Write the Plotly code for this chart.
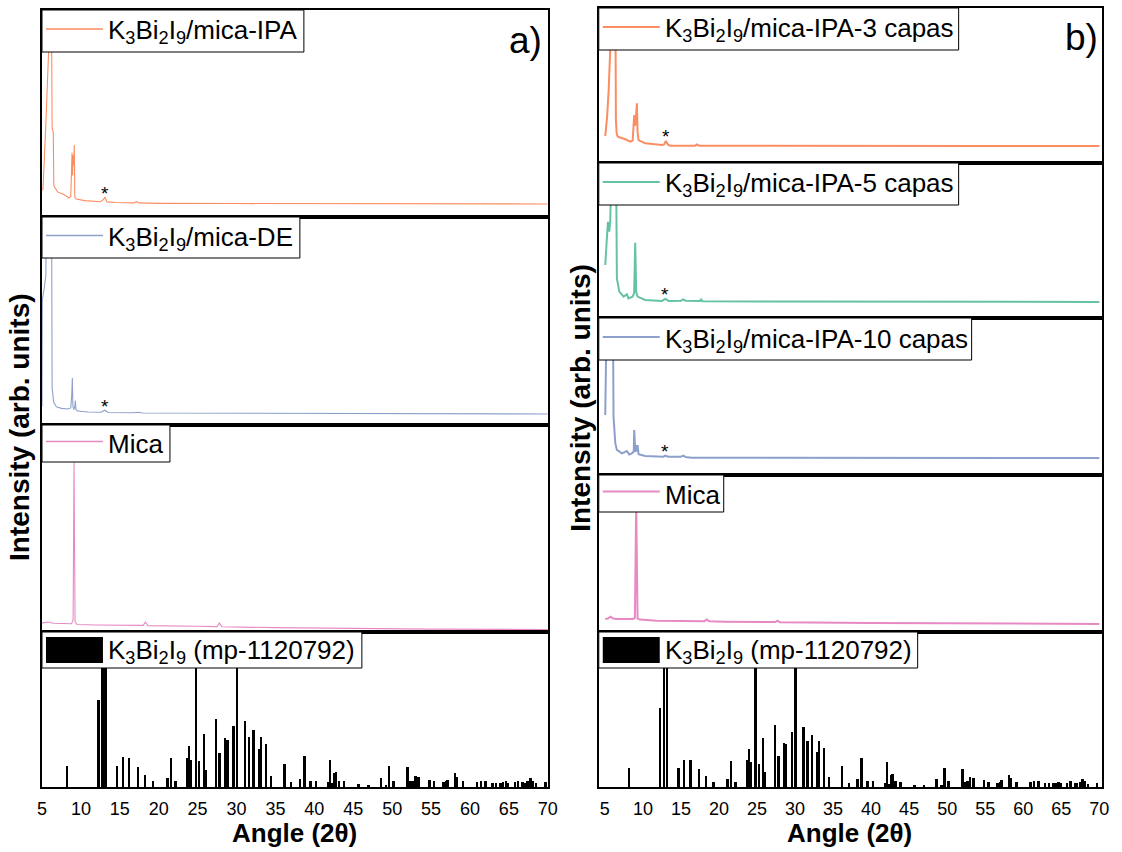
import plotly.graph_objects as go

W, H = 1122, 852
FONT = "Arial, 'Liberation Sans', sans-serif"

# ---------------- data ----------------
# Calculated reference pattern K3Bi2I9 (mp-1120792): peak positions (2theta) and relative intensity
ref_pos = [8.21, 12.29, 12.8, 13.2, 14.68, 15.41, 16.24, 17.34, 18.26, 19.31, 21.15, 21.6, 22.16,
           23.7, 23.95, 24.17, 24.82, 25.23, 25.83, 26.05, 27.38, 27.84, 28.58, 28.85, 29.63, 30.09,
           31.1, 31.65, 32.2, 32.93, 33.16, 33.8, 34.45, 36.19, 37.06, 38.2, 38.76, 39.54, 40.23,
           41.83, 42.06, 42.3, 42.6, 42.8, 43.2, 43.85, 45.7, 46.97, 48.62, 49.27, 49.63, 50.18,
           52.0, 52.4, 52.66, 53.03, 53.44, 54.82, 55.41, 56.6, 56.93, 57.16, 58.12, 58.39, 59.13,
           60.96, 61.42, 62.0, 62.9, 63.4, 63.97, 64.3, 64.63, 64.9, 65.78, 66.19, 66.79, 67.06,
           67.43, 67.8, 68.16, 68.53, 69.72]
ref_int = [13.4, 56, 120, 120, 13.4, 19.4, 19, 12.7, 7.5, 3.7, 6, 18.5, 3.7,
           19, 26.7, 17.7, 120, 16.6, 34.5, 10.8, 43.8, 22.2, 31.3, 30.2, 39.2, 120,
           42.7, 32.3, 36.6, 24.6, 32.3, 27.6, 6.9, 15.1, 3, 5.4, 20.3, 4.1, 4.1,
           3, 17.5, 2.4, 8.8, 9.5, 4.1, 3.7, 1.7, 1.3, 5.8, 1.3, 13.6, 4.1,
           13.1, 3.7, 4.1, 6.9, 6.5, 4.7, 3.7, 3, 3.7, 4.7, 8.8, 6.7, 3.7,
           3.2, 4.1, 4.1, 2.6, 2.6, 2.6, 3, 3.7, 2.6, 3, 4.1, 3, 2.6,
           3.7, 5.6, 4.1, 2.4, 3]

# Panel a)
ipa_x = [5.0, 5.13, 5.5, 5.85, 6.0, 6.15, 6.3, 6.45, 6.52, 6.8, 7.03, 7.7, 8.47, 8.7, 8.8, 8.86,
         8.93, 9.0, 9.08, 9.15, 9.22, 9.4, 10.5, 12.5, 12.9, 13.1, 13.35, 14.5, 16.8, 17.15, 17.5,
         20, 30, 40, 50, 60, 70]
ipa_y = [13, 13.5, 45, 80, 150, 150, 43, 41, 15, 13, 12, 11.1, 9.2, 10, 28, 31,
         20, 30, 25, 34.8, 9.5, 8.7, 7.9, 7.4, 8.5, 9.6, 7.3, 7.0, 6.8, 7.4, 6.8,
         6.6, 6.5, 6.4, 6.4, 6.3, 6.3]

de_x = [5.0, 5.04, 5.3, 5.5, 5.6, 6.2, 6.3, 6.5, 6.85, 7.5, 8.35, 8.7, 8.83, 8.9, 8.97, 9.1,
        9.22, 9.29, 9.36, 9.6, 10.9, 12.6, 13.07, 13.5, 16.8, 17.35, 17.9, 25, 40, 55, 70]
de_y = [9, 60, 66, 72, 150, 150, 18, 11, 8.7, 8.0, 7.7, 8.2, 15, 22.6, 9, 7.4,
        9, 11.7, 7.4, 6.7, 6.25, 6.1, 7.1, 6.0, 5.9, 6.1, 5.8, 5.7, 5.6, 5.4, 5.3]

mica_a_x = [5.0, 5.7, 6.5, 8.8, 9.0, 9.12, 9.25, 9.5, 12, 18.0, 18.3, 18.6, 25, 27.5, 27.8,
            28.1, 35, 45, 55, 70]
mica_a_y = [4.3, 4.8, 4.2, 4.0, 6, 82, 5, 3.6, 3.4, 3.2, 4.8, 3.1, 2.8, 2.6, 4.3,
            2.5, 2.1, 1.7, 1.4, 1.2]

# Panel b)
c3_x = [5.05, 5.3, 5.5, 5.84, 6.0, 6.35, 6.45, 6.55, 6.7, 7.02, 7.68, 8.34, 8.65, 8.86, 8.98,
        9.1, 9.21, 9.3, 9.43, 10.3, 12.5, 12.8, 13.02, 13.3, 13.6, 16.9, 17.1, 17.4, 25, 40, 55, 70]
c3_y = [17.4, 30, 47, 90, 150, 150, 27.7, 19, 17, 16.6, 15.3, 13.8, 14.5, 31, 24,
        30, 38.5, 20, 14.8, 12.7, 11.6, 12, 14.2, 11.8, 11.2, 11.2, 12, 11.2, 11.1, 11, 11, 11]

c5_x = [5.05, 5.3, 5.4, 5.58, 5.71, 5.84, 6.0, 6.4, 6.5, 6.58, 6.9, 7.46, 7.9, 8.1, 8.64, 8.85,
        8.99, 9.12, 9.3, 10.3, 12.5, 12.95, 13.4, 15.0, 15.3, 15.6, 17.5, 17.65, 17.8, 25, 40, 55, 70]
c5_y = [34.2, 50, 62, 55.7, 63, 90, 150, 150, 40, 25.6, 17, 13.8, 15.3, 12.7, 13.8, 16,
        48.6, 17, 13.8, 11.6, 11, 12.3, 11, 11.2, 12, 11.2, 10.9, 12.3, 10.8, 10.7, 10.5, 10.4, 10.3]

c10_x = [5.05, 5.2, 5.27, 6.0, 6.14, 6.37, 6.58, 7.24, 7.9, 8.2, 8.55, 8.8, 8.86, 8.95, 9.0,
         9.1, 9.16, 9.23, 9.3, 9.43, 10.3, 12.7, 12.95, 13.3, 15.0, 15.3, 15.6, 16.4, 25, 40, 55, 70]
c10_y = [38.2, 90, 150, 150, 37, 20.3, 16, 13.8, 15.3, 13, 13.8, 15, 28.7, 15, 14.8,
         16, 19, 15, 19, 13.3, 12.1, 11.7, 12.3, 11.7, 11.6, 12.3, 11.5, 11, 10.9, 10.9, 10.8, 10.8]

mica_b_x = [5.05, 5.4, 5.75, 6.1, 6.5, 8.69, 8.95, 9.12, 9.3, 9.6, 11.8, 18.1, 18.4, 18.7, 20.7,
            27.4, 27.7, 28.0, 40, 55, 70]
mica_b_y = [8.3, 8.6, 9.8, 8.6, 8.3, 8.3, 9, 82, 8.5, 7.9, 7.2, 6.9, 8.0, 6.9, 6.6,
            6.3, 7.2, 6.2, 5.8, 5.4, 5.1]

tick_vals = [5, 10, 15, 20, 25, 30, 35, 40, 45, 50, 55, 60, 65, 70]

SUB = "K<sub>3</sub>Bi<sub>2</sub>I<sub>9</sub>"
labels_a = [SUB + "/mica-IPA", SUB + "/mica-DE", "Mica", SUB + " (mp-1120792)"]
labels_b = [SUB + "/mica-IPA-3 capas", SUB + "/mica-IPA-5 capas", SUB + "/mica-IPA-10 capas",
            "Mica", SUB + " (mp-1120792)"]

ORANGE, GREEN, BLUE, PINK = "#FC8D62", "#66C2A5", "#8DA0CB", "#E78AC3"

# ---------------- layout geometry (pixels) ----------------
left_x = (40, 546)
right_x = (597, 1100)
left_rows = [(10, 217), (217, 425), (425, 632), (632, 787)]
right_rows = [(8, 163), (163, 318), (318, 475), (475, 632), (632, 787)]

# legend boxes: (x0, y0, x1, y1) in px
left_leg = [(40, 10, 302, 52), (40, 217, 298, 258), (40, 425, 168, 462), (40, 632, 360, 668)]
right_leg = [(597, 8, 957, 50), (597, 163, 957, 205), (597, 318, 970, 360), (597, 475, 722, 512),
             (597, 632, 916, 668)]


def fx(px):
    return ((px - 3) / 0.987) / W


def fy(py):
    return 1 - py / H


fig = go.Figure()
layout = dict(
    width=W, height=H, margin=dict(l=0, r=0, t=0, b=0),
    paper_bgcolor="white", plot_bgcolor="white", showlegend=False,
    font=dict(family=FONT, color="black"),
)

shapes = []
annotations = []

panels = [
    dict(xdom=left_x, rows=left_rows, xr=[5, 70], yr_bar=[0, 100], lw=1.1,
         series=[(ipa_x, ipa_y, ORANGE), (de_x, de_y, BLUE), (mica_a_x, mica_a_y, PINK)],
         legs=left_leg, labels=labels_a,
         stars=[(13.1, 9.6), (13.07, 7.1), None]),
    dict(xdom=right_x, rows=right_rows, xr=[4.2, 70.3], yr_bar=[0, 110], lw=2,
         series=[(c3_x, c3_y, ORANGE), (c5_x, c5_y, GREEN), (c10_x, c10_y, BLUE),
                 (mica_b_x, mica_b_y, PINK)],
         legs=right_leg, labels=labels_b,
         stars=[(13.02, 14.2), (12.95, 12.3), (12.95, 12.3), None]),
]

idx = 0
for p in panels:
    nrows = len(p["rows"])
    for r in range(nrows):
        idx += 1
        xa = "xaxis" if idx == 1 else f"xaxis{idx}"
        ya = "yaxis" if idx == 1 else f"yaxis{idx}"
        xref = "x" if idx == 1 else f"x{idx}"
        yref = "y" if idx == 1 else f"y{idx}"
        top, bot = p["rows"][r]
        is_bottom = (r == nrows - 1)
        layout[xa] = dict(
            domain=[fx(p["xdom"][0]), fx(p["xdom"][1])], range=p["xr"], anchor=yref,
            showline=True, mirror=True, linecolor="black", linewidth=1.5,
            showgrid=False, zeroline=False, ticks="",
            tickvals=tick_vals, showticklabels=is_bottom, ticklabelstandoff=5,
            tickfont=dict(size=18, family=FONT, color="black"),
        )
        yr = p["yr_bar"] if is_bottom else [0, 100]
        layout[ya] = dict(
            domain=[fy(bot), fy(top)], range=yr, anchor=xref,
            showline=True, mirror=True, linecolor="black", linewidth=1.5,
            showgrid=False, zeroline=False, ticks="", showticklabels=False,
        )
        if is_bottom:
            fig.add_trace(go.Bar(x=ref_pos, y=ref_int, width=0.25,
                                 marker=dict(color="black", line=dict(width=0)),
                                 xaxis=xref, yaxis=yref))
        else:
            sx, sy, col = p["series"][r]
            fig.add_trace(go.Scatter(x=sx, y=sy, mode="lines", line=dict(color=col, width=p["lw"]),
                                     xaxis=xref, yaxis=yref))
            st = p["stars"][r]
            if st is not None:
                annotations.append(dict(x=st[0], y=st[1], xref=xref, yref=yref, text="*",
                                        showarrow=False, yanchor="middle", yshift=4,
                                        font=dict(size=19, family=FONT, color="black")))
        # legend box
        x0, y0, x1, y1 = p["legs"][r]
        shapes.append(dict(type="rect", xref="paper", yref="paper", x0=fx(x0), x1=fx(x1),
                           y0=fy(y1), y1=fy(y0), fillcolor="white",
                           line=dict(color="black", width=1), layer="above"))
        ym = (y0 + y1) / 2
        if is_bottom:
            shapes.append(dict(type="rect", xref="paper", yref="paper", x0=fx(x0 + 4), x1=fx(x0 + 61),
                               y0=fy(y1 - 5), y1=fy(y0 + 5), fillcolor="black",
                               line=dict(color="black", width=0), layer="above"))
        else:
            col = p["series"][r][2]
            shapes.append(dict(type="line", xref="paper", yref="paper", x0=fx(x0 + 4), x1=fx(x0 + 61),
                               y0=fy(ym - 2), y1=fy(ym - 2),
                               line=dict(color=col, width=1.5 if p["lw"] < 1.5 else 2), layer="above"))
        annotations.append(dict(x=fx(x0 + 64), y=fy(ym + 1), xref="paper", yref="paper",
                                text=p["labels"][r], showarrow=False, xanchor="left", yanchor="middle",
                                font=dict(size=26, family=FONT, color="black")))

# panel letters
annotations.append(dict(x=fx(542), y=fy(40), xref="paper", yref="paper", text="a)", showarrow=False,
                        xanchor="right", yanchor="middle", font=dict(size=37, family=FONT, color="black")))
annotations.append(dict(x=fx(1098), y=fy(37), xref="paper", yref="paper", text="b)", showarrow=False,
                        xanchor="right", yanchor="middle", font=dict(size=37, family=FONT, color="black")))

# axis titles
for cx in (293, 848):
    annotations.append(dict(x=fx(cx), y=fy(833), xref="paper", yref="paper", text="Angle (2θ)",
                            showarrow=False, xanchor="center", yanchor="middle",
                            font=dict(size=26, family=FONT, color="black", weight="bold")))
for cx, cy in ((18, 427), (578, 398)):
    annotations.append(dict(x=fx(cx), y=fy(cy), xref="paper", yref="paper",
                            text="Intensity (arb. units)", textangle=-90,
                            showarrow=False, xanchor="center", yanchor="middle",
                            font=dict(size=28, family=FONT, color="black", weight="bold")))

layout["shapes"] = shapes
layout["annotations"] = annotations
layout["bargap"] = 0
fig.update_layout(**layout)

fig.write_html("out.html",
               post_script="document.body.style.margin='0';document.body.style.overflow='hidden';")
